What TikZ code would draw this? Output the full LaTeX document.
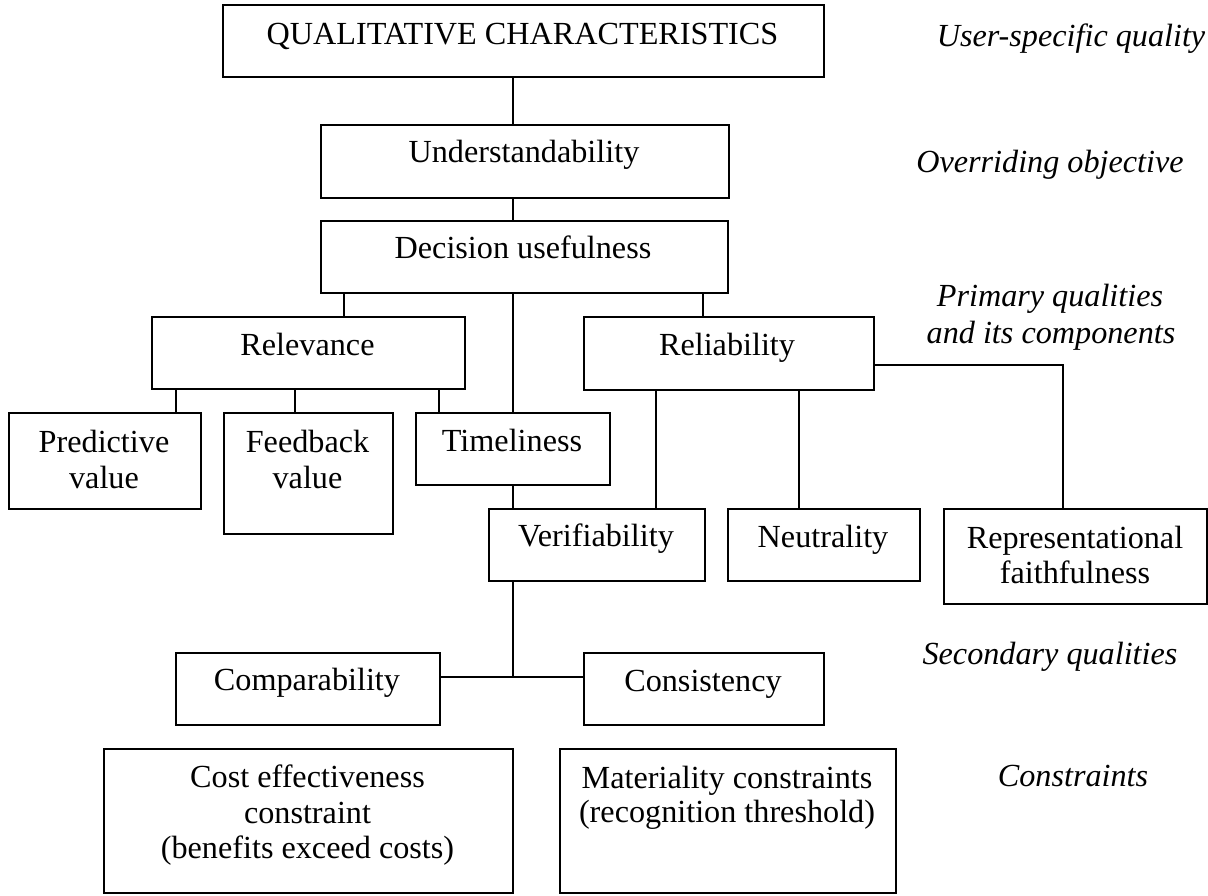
\documentclass[tikz,border=0pt]{standalone}
\usepackage{fontspec}
\setmainfont{Liberation Serif}
\usetikzlibrary{calc}
\begin{document}
\begin{tikzpicture}[x=1pt,y=-1pt,
  boxst/.style={draw=black,line width=1.8pt,inner sep=0pt,anchor=north west},
  txt/.style={anchor=base,inner sep=0pt,font=\fontsize{32.2}{36}\selectfont},
  lab/.style={anchor=base,inner sep=0pt,font=\fontsize{32.2}{36}\selectfont\itshape},
  conn/.style={draw=black,line width=1.8pt}]
\useasboundingbox (0,0) rectangle (1208,895);
% boxes
\node[boxst,minimum width=601pt,minimum height=72pt] (qual) at (222,4) {};
\node[boxst,minimum width=408pt,minimum height=73pt] (und) at (320,124) {};
\node[boxst,minimum width=407pt,minimum height=72pt] (dec) at (320,220) {};
\node[boxst,minimum width=313pt,minimum height=72pt] (rel) at (151,316) {};
\node[boxst,minimum width=290pt,minimum height=73pt] (reli) at (583,316) {};
\node[boxst,minimum width=192pt,minimum height=96pt] (pred) at (8,412) {};
\node[boxst,minimum width=169pt,minimum height=121pt] (feed) at (223,412) {};
\node[boxst,minimum width=194pt,minimum height=72pt] (time) at (415,412) {};
\node[boxst,minimum width=216pt,minimum height=72pt] (veri) at (488,508) {};
\node[boxst,minimum width=192pt,minimum height=72pt] (neut) at (727,508) {};
\node[boxst,minimum width=263pt,minimum height=95pt] (repr) at (943,508) {};
\node[boxst,minimum width=264pt,minimum height=72pt] (comp) at (175,652) {};
\node[boxst,minimum width=240pt,minimum height=72pt] (cons) at (583,652) {};
\node[boxst,minimum width=409pt,minimum height=144pt] (cost) at (103,748) {};
\node[boxst,minimum width=336pt,minimum height=144pt] (mat) at (559,748) {};
% texts
\node[txt] (tqual) at (522.5,44) {QUALITATIVE CHARACTERISTICS};
\node[txt] (tund) at (524,162) {Understandability};
\node[txt] (tdec) at (523,258) {Decision usefulness};
\node[txt] (trel) at (307.5,355) {Relevance};
\node[txt] (treli) at (727,355) {Reliability};
\node[txt] (tpredA) at (104,452) {Predictive};
\node[txt] (tpredB) at (104,488) {value};
\node[txt] (tfeedA) at (307.5,452) {Feedback};
\node[txt] (tfeedB) at (307.5,488) {value};
\node[txt] (ttime) at (512,451) {Timeliness};
\node[txt] (tveri) at (596,546) {Verifiability};
\node[txt] (tneut) at (823,547) {Neutrality};
\node[txt] (treprA) at (1075,548) {Representational};
\node[txt] (treprB) at (1075,583) {faithfulness};
\node[txt] (tcomp) at (307,690) {Comparability};
\node[txt] (tcons) at (703,691) {Consistency};
\node[txt] (tcostA) at (307.5,787) {Cost effectiveness};
\node[txt] (tcostB) at (307.5,823) {constraint};
\node[txt] (tcostC) at (307.5,858) {(benefits exceed costs)};
\node[txt] (tmatA) at (727,788) {Materiality constraints};
\node[txt] (tmatB) at (727,822) {(recognition threshold)};
% side labels
\node[lab] (l1) at (1071,46) {User-specific quality};
\node[lab] (l2) at (1050,172) {Overriding objective};
\node[lab] (l3a) at (1050,306) {Primary qualities};
\node[lab] (l3b) at (1051,343) {and its components};
\node[lab] (l4) at (1050,664) {Secondary qualities};
\node[lab] (l5) at (1073,786) {Constraints};
% connector points
\coordinate (rA) at ([xshift=193pt]rel.north west);
\coordinate (reliA) at ([xshift=120pt]reli.north west);
\coordinate (pA) at ([xshift=168pt]pred.north west);
\coordinate (fA) at ([xshift=72pt]feed.north west);
\coordinate (tA) at ([xshift=24pt]time.north west);
\coordinate (vA) at ([xshift=168pt]veri.north west);
\coordinate (nA) at ([xshift=72pt]neut.north west);
\coordinate (rrA) at ([yshift=-11.5pt]reli.east);
\coordinate (reA) at ([xshift=120pt]repr.north west);
\coordinate (cA) at ([yshift=12pt]comp.east);
\coordinate (cB) at ([yshift=12pt]cons.west);
% connectors
\draw[conn] (qual.south -| time.north) -- (und.north -| time.north);
\draw[conn] (und.south -| time.north) -- (dec.north -| time.north);
\draw[conn] (rA) -- (rA |- dec.south);
\draw[conn] (dec.south -| time.north) -- (time.north);
\draw[conn] (reliA) -- (reliA |- dec.south);
\draw[conn] (pA) -- (pA |- rel.south);
\draw[conn] (fA) -- (fA |- rel.south);
\draw[conn] (tA) -- (tA |- rel.south);
\draw[conn] (time.south) -- (veri.north -| time.south);
\draw[conn] (vA) -- (vA |- reli.south);
\draw[conn] (nA) -- (nA |- reli.south);
\draw[conn] (rrA) -| (reA);
\draw[conn] (veri.south -| time.south) -- (cA -| time.south);
\draw[conn] (cA) -- (cB);
\end{tikzpicture}
\end{document}
